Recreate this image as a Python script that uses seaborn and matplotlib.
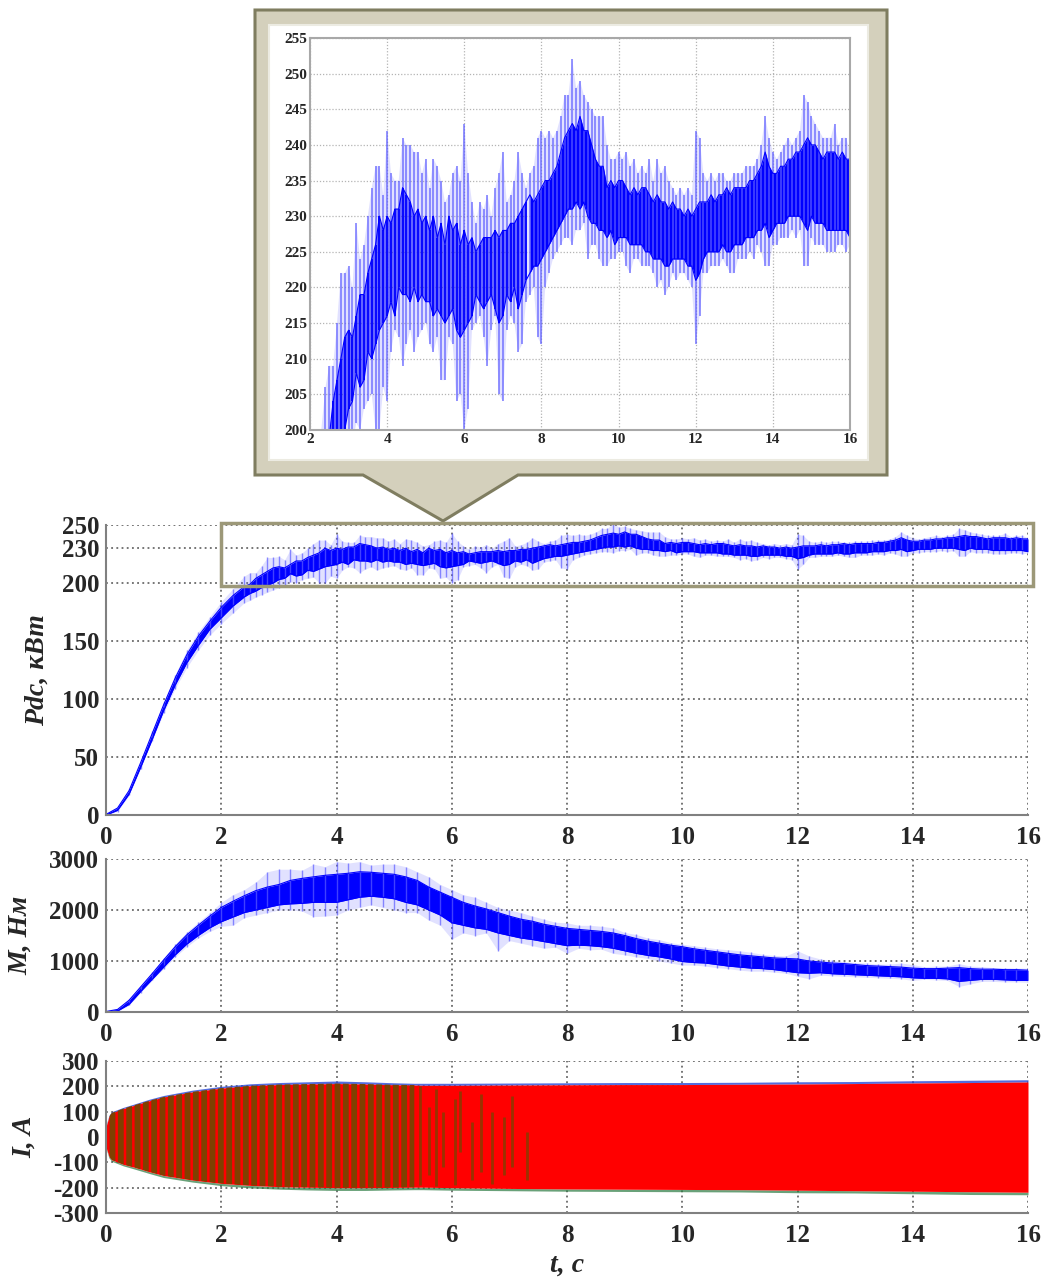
import matplotlib
matplotlib.use("Agg")
import matplotlib.pyplot as plt
from matplotlib.patches import Polygon, Rectangle
import seaborn as sns
import numpy as np
import pandas as pd

# Pdc, kW: outer spike range (lo/hi) and dense core (clo/chi)
pdc_t = [0.0, 0.2, 0.4, 0.6, 0.8, 1.0, 1.2, 1.4, 1.6, 1.8, 2.0, 2.2, 2.4, 2.6, 2.8,
         3.0, 3.2, 3.4, 3.6, 3.8, 4.0, 4.2, 4.4, 4.6, 4.8, 5.0, 5.2, 5.4, 5.6, 5.8,
         6.0, 6.2, 6.4, 6.6, 6.8, 7.0, 7.2, 7.4, 7.6, 7.8, 8.0, 8.2, 8.4, 8.6, 8.8,
         9.0, 9.2, 9.4, 9.6, 9.8, 10.0, 10.2, 10.4, 10.6, 10.8, 11.0, 11.2, 11.4, 11.6, 11.8,
         12.0, 12.2, 12.4, 12.6, 12.8, 13.0, 13.2, 13.4, 13.6, 13.8, 14.0, 14.2, 14.4, 14.6, 14.8,
         15.0, 15.2, 15.4, 15.6, 15.8, 16.0]
pdc_lo = [0, 3, 17, 40, 64, 88, 109, 127, 142, 155, 165, 174, 183, 188, 192,
          196, 201, 203, 205, 200, 204, 214, 209, 214, 213, 215, 211, 207, 213, 204,
          200, 214, 216, 209, 216, 204, 216, 211, 218, 220, 212, 222, 225, 227, 226,
          228, 224, 226, 223, 224, 225, 223, 224, 223, 223, 220, 219, 222, 222, 221,
          212, 222, 223, 223, 223, 222, 224, 225, 226, 223, 226, 227, 227, 227, 223,
          227, 226, 225, 225, 226, 226]
pdc_clo = [0, 4, 18, 41, 65, 90, 112, 131, 146, 160, 170, 180, 188, 193, 198,
           203, 208, 207, 210, 214, 216, 216, 219, 218, 218, 218, 216, 216, 216, 214,
           214, 216, 218, 218, 217, 216, 218, 217, 221, 223, 224, 226, 228, 230, 231,
           231, 230, 229, 228, 228, 227, 227, 226, 226, 225, 224, 223, 224, 224, 223,
           221, 224, 225, 225, 225, 226, 226, 227, 228, 229, 228, 229, 230, 230, 229,
           230, 229, 228, 228, 228, 227]
pdc_chi = [0.5, 6, 21, 45, 70, 95, 118, 138, 154, 167, 179, 189, 197, 204, 210,
           214, 216, 219, 224, 230, 230, 231, 234, 232, 231, 230, 230, 229, 230, 229,
           228, 227, 226, 227, 228, 228, 229, 230, 232, 232, 234, 235, 237, 241, 243,
           244, 242, 238, 237, 235, 235, 234, 234, 234, 233, 233, 232, 232, 231, 231,
           231, 232, 233, 233, 234, 234, 234, 235, 236, 239, 236, 237, 238, 239, 240,
           240, 239, 239, 239, 239, 238]
pdc_hi = [1, 7, 22, 46, 72, 97, 121, 142, 158, 171, 184, 195, 206, 209, 222,
          223, 229, 226, 234, 237, 242, 235, 241, 240, 239, 238, 238, 235, 233, 237,
          243, 232, 232, 233, 234, 239, 233, 239, 234, 237, 242, 242, 242, 247, 252,
          249, 246, 244, 244, 238, 239, 239, 238, 237, 238, 238, 237, 234, 234, 234,
          242, 236, 236, 236, 235, 236, 236, 237, 238, 244, 239, 239, 241, 241, 247,
          244, 242, 241, 243, 241, 239]
# in-between samples of the same trace (t = 2.5, 2.7, ... 15.9)
pdc_t2 = [2.5, 2.7, 2.9, 3.1, 3.3, 3.5, 3.7, 3.9, 4.1, 4.3, 4.5, 4.7, 4.9, 5.1, 5.3,
          5.5, 5.7, 5.9, 6.1, 6.3, 6.5, 6.7, 6.9, 7.1, 7.3, 7.5, 7.7, 7.9, 8.1, 8.3,
          8.5, 8.7, 8.9, 9.1, 9.3, 9.5, 9.7, 9.9, 10.1, 10.3, 10.5, 10.7, 10.9, 11.1, 11.3,
          11.5, 11.7, 11.9, 12.1, 12.3, 12.5, 12.7, 12.9, 13.1, 13.3, 13.5, 13.7, 13.9, 14.1, 14.3,
          14.5, 14.7, 14.9, 15.1, 15.3, 15.5, 15.7, 15.9]
pdc_lo2 = [185, 190, 194, 198, 200, 204, 200, 206, 211, 213, 212, 211, 214, 212, 213,
           207, 212, 205, 203, 215, 213, 214, 205, 214, 215, 212, 219, 213, 220, 224,
           226, 227, 228, 229, 226, 224, 223, 224, 225, 222, 224, 223, 222, 221, 220,
           221, 222, 220, 216, 222, 223, 224, 222, 224, 224, 224, 225, 223, 226, 227,
           228, 228, 223, 226, 226, 225, 226, 225]
pdc_clo2 = [191, 196, 200, 204, 206, 211, 212, 215, 218, 220, 219, 220, 219, 218, 217,
            215, 217, 213, 215, 219, 217, 219, 215, 219, 220, 219, 222, 223, 225, 227,
            229, 231, 232, 232, 229, 228, 227, 226, 227, 226, 226, 225, 224, 224, 223,
            224, 224, 223, 222, 225, 225, 226, 225, 226, 227, 227, 228, 227, 229, 229,
            230, 230, 228, 229, 229, 228, 228, 228]
pdc_chi2 = [199, 207, 213, 213, 219, 222, 226, 228, 229, 231, 233, 230, 229, 228, 227,
            226, 228, 226, 226, 225, 227, 227, 227, 228, 229, 231, 233, 233, 235, 236,
            239, 242, 242, 242, 240, 237, 234, 234, 235, 233, 233, 234, 232, 232, 231,
            231, 230, 230, 232, 232, 232, 233, 233, 234, 234, 235, 237, 237, 236, 237,
            238, 239, 241, 240, 238, 239, 238, 238]
pdc_hi2 = [209, 215, 222, 220, 224, 230, 237, 233, 236, 235, 240, 239, 236, 234, 237,
           232, 236, 235, 236, 229, 231, 230, 236, 232, 235, 236, 236, 241, 241, 241,
           244, 247, 248, 247, 245, 244, 240, 238, 238, 237, 236, 236, 235, 236, 235,
           233, 233, 233, 241, 235, 235, 236, 235, 236, 237, 237, 240, 241, 238, 240,
           240, 242, 246, 243, 241, 241, 240, 241]

# M, Nm
m_t = [0.0, 0.2, 0.4, 0.6, 0.8, 1.0, 1.2, 1.4, 1.6, 1.8, 2.0, 2.2, 2.4, 2.6, 2.8,
       3.0, 3.2, 3.4, 3.6, 3.8, 4.0, 4.2, 4.4, 4.6, 4.8, 5.0, 5.2, 5.4, 5.6, 5.8,
       6.0, 6.2, 6.4, 6.6, 6.8, 7.0, 7.2, 7.4, 7.6, 7.8, 8.0, 8.2, 8.4, 8.6, 8.8,
       9.0, 9.2, 9.4, 9.6, 9.8, 10.0, 10.2, 10.4, 10.6, 10.8, 11.0, 11.2, 11.4, 11.6, 11.8,
       12.0, 12.2, 12.4, 12.6, 12.8, 13.0, 13.2, 13.4, 13.6, 13.8, 14.0, 14.2, 14.4, 14.6, 14.8,
       15.0, 15.2, 15.4, 15.6, 15.8, 16.0]
m_min = [0, 10, 130, 380, 620, 850, 1080, 1280, 1450, 1580, 1680, 1700, 1850, 1900, 1950,
         2000, 2000, 1980, 1870, 1880, 1900, 2000, 2050, 2100, 2050, 2000, 1950, 1950, 1800, 1700,
         1430, 1550, 1500, 1550, 1200, 1400, 1350, 1300, 1250, 1270, 1150, 1250, 1220, 1230, 1150,
         1120, 1080, 1050, 1000, 960, 920, 920, 900, 870, 850, 820, 800, 800, 780, 760,
         700, 650, 720, 710, 700, 690, 680, 670, 660, 650, 620, 640, 630, 620, 500,
         550, 600, 600, 590, 590, 580]
m_lo = [0, 20, 150, 400, 640, 880, 1120, 1330, 1500, 1650, 1770, 1860, 1950, 2000, 2050,
        2100, 2120, 2130, 2150, 2150, 2150, 2200, 2250, 2270, 2250, 2220, 2150, 2100, 2000, 1900,
        1750, 1700, 1650, 1620, 1550, 1500, 1450, 1420, 1380, 1340, 1300, 1310, 1300, 1280, 1250,
        1200, 1150, 1110, 1080, 1040, 990, 970, 960, 930, 900, 880, 860, 850, 830, 800,
        770, 760, 770, 750, 740, 730, 720, 710, 700, 690, 670, 660, 660, 650, 600,
        620, 640, 640, 630, 620, 620]
m_hi = [10, 50, 230, 490, 750, 1020, 1280, 1510, 1700, 1880, 2050, 2170, 2280, 2380, 2450,
        2500, 2580, 2620, 2650, 2680, 2700, 2720, 2750, 2740, 2720, 2700, 2650, 2580, 2450, 2350,
        2250, 2150, 2080, 2020, 1950, 1880, 1820, 1780, 1720, 1680, 1640, 1620, 1600, 1580, 1550,
        1500, 1440, 1390, 1350, 1310, 1280, 1240, 1210, 1180, 1150, 1120, 1100, 1080, 1060, 1050,
        1040, 1000, 980, 960, 950, 930, 910, 900, 890, 880, 860, 850, 850, 860, 870,
        850, 840, 840, 830, 830, 820]
m_max = [20, 60, 250, 510, 780, 1060, 1330, 1570, 1760, 1950, 2150, 2300, 2400, 2550, 2750,
         2800, 2800, 2780, 2900, 2850, 2950, 2920, 2950, 2880, 2900, 2900, 2850, 2750, 2650, 2500,
         2400, 2300, 2250, 2150, 2050, 2000, 1950, 1880, 1820, 1760, 1750, 1700, 1700, 1680, 1650,
         1560, 1520, 1450, 1420, 1360, 1330, 1300, 1270, 1240, 1220, 1200, 1170, 1130, 1110, 1100,
         1200, 1100, 1040, 1010, 990, 970, 960, 940, 940, 960, 930, 890, 900, 900, 950,
         900, 890, 870, 870, 860, 860]

# I, A: envelope of the three phase currents
i_t = [0, 0.05, 0.1, 0.3, 0.5, 0.75, 1, 1.5, 2, 2.5, 3, 3.5, 4, 4.5, 5, 5.35, 5.5,
       6, 7, 8, 9, 10, 11, 12, 13, 14, 15, 16]
i_hi = [40, 80, 95, 112, 126, 143, 158, 178, 193, 202, 207, 209, 211, 209, 206, 205, 204,
        204, 205, 206, 207, 207, 208, 209, 211, 213, 215, 217]
i_lo = [-40, -75, -90, -108, -120, -137, -152, -170, -183, -191, -196, -198, -200, -200, -199, -198, -198,
        -200, -203, -205, -206, -207, -208, -210, -212, -214, -216, -218]
i_hi_pk = [44, 85, 100, 117, 131, 149, 164, 185, 200, 210, 215, 218, 221, 218, 214, 212, 212,
           212, 213, 214, 215, 215, 216, 218, 219, 222, 224, 226]
i_lo_pk = [-44, -82, -96, -114, -127, -144, -160, -178, -192, -201, -206, -209, -211, -211, -209, -208, -208,
           -210, -212, -214, -215, -216, -217, -220, -221, -224, -227, -228]
# darker stripes still visible after the red takes over
i_stripe_t = [5.45, 5.6, 5.72, 5.85, 6.05, 6.15, 6.35, 6.5, 6.7, 6.9, 7.05, 7.3]
i_stripe_lo = [-190, -150, -195, -120, -190, -60, -170, -140, -185, -150, -120, -170]
i_stripe_hi = [200, 120, 190, 100, 150, 180, 60, 170, 100, 80, 160, 20]

pdc_ticks = [0, 50, 100, 150, 200, 230, 250]
m_ticks = [0, 1000, 2000, 3000]
i_ticks = [-300, -200, -100, 0, 100, 200, 300]
t_ticks = [0, 2, 4, 6, 8, 10, 12, 14, 16]
inset_yticks = [200, 205, 210, 215, 220, 225, 230, 235, 240, 245, 250, 255]

sns.set_theme(style="white")
plt.rcParams['font.family'] = ['Liberation Serif', 'DejaVu Serif']
plt.rcParams['font.weight'] = 'bold'
plt.rcParams['hatch.linewidth'] = 4.2

W, H = 1043, 1277
fig = plt.figure(figsize=(W / 100, H / 100), dpi=100)
fig.patch.set_facecolor('white')


def px_axes(x0, y0, x1, y1):
    return fig.add_axes([x0 / W, 1 - y1 / H, (x1 - x0) / W, (y1 - y0) / H])


def fx(x, y):
    return (x / W, 1 - y / H)


BLUE = '#0000ff'
LIGHT = '#5c5cff'

ax1 = px_axes(106, 525, 1028, 815)
ax2 = px_axes(106, 859, 1028, 1012)
ax3 = px_axes(106, 1061, 1028, 1213)
axin = px_axes(310, 38, 850, 430)

pdc = pd.concat([
    pd.DataFrame({'t': pdc_t, 'lo': pdc_lo, 'clo': pdc_clo, 'chi': pdc_chi, 'hi': pdc_hi}),
    pd.DataFrame({'t': pdc_t2, 'lo': pdc_lo2, 'clo': pdc_clo2, 'chi': pdc_chi2, 'hi': pdc_hi2}),
]).sort_values('t').reset_index(drop=True)
mdf = pd.DataFrame({'t': m_t, 'lo': m_min, 'clo': m_lo, 'chi': m_hi, 'hi': m_max})


def noisy_band(ax, df, lw, light_until=None):
    ax.fill_between(df['t'], df['lo'], df['hi'], color=LIGHT, alpha=0.18, lw=0)
    ax.vlines(df['t'], df['lo'], df['hi'], color=LIGHT, alpha=0.7, lw=lw)
    if light_until is None:
        ax.fill_between(df['t'], df['clo'], df['chi'], color=BLUE, lw=0)
    else:
        early = (df['t'] <= light_until).to_numpy()
        ax.fill_between(df['t'], df['clo'], df['chi'], where=early, color=BLUE,
                        alpha=0.55, lw=0)
        ax.fill_between(df['t'], df['clo'], df['chi'], where=~early, color=BLUE, lw=0)
        ax.vlines(df['t'][early], df['clo'][early], df['chi'][early], color=BLUE, lw=lw)
    sns.lineplot(data=df, x='t', y='clo', ax=ax, color=BLUE, lw=0.8)
    sns.lineplot(data=df, x='t', y='chi', ax=ax, color=BLUE, lw=0.8)


noisy_band(ax1, pdc, 1.0)
noisy_band(axin, pdc, 1.3, light_until=7.6)
noisy_band(ax2, mdf, 1.0)

# currents
it = np.array(i_t)
ax3.fill_between(it, i_hi, i_hi_pk, color='#2848d8', alpha=0.8, lw=0)
ax3.fill_between(it, i_lo_pk, i_lo, color='#2a7a40', alpha=0.7, lw=0)
ax3.fill_between(it, i_lo, i_hi, color='#ff0000', lw=0)
ax3.fill_between(it, i_lo, i_hi, where=it <= 5.35, facecolor='none',
                 edgecolor='#7f4000', hatch='||', lw=0)
ax3.vlines(i_stripe_t, i_stripe_lo, i_stripe_hi, color='#7f4000', alpha=0.8, lw=2)

tick_font = dict(fontsize=18, fontweight='bold')
label_font = dict(fontsize=20, fontweight='bold', style='italic')

for ax, yt, lab, lx in [(ax1, pdc_ticks, 'Pdc, кВт', -0.075),
                        (ax2, m_ticks, 'M, Нм', -0.093),
                        (ax3, i_ticks, 'I, A', -0.089)]:
    ax.set_xlim(0, 16)
    ax.set_ylim(yt[0], yt[-1])
    ax.set_xticks(t_ticks)
    ax.set_yticks(yt)
    ax.set_xticklabels([str(v) for v in t_ticks], **tick_font)
    ax.set_yticklabels([str(v) for v in yt], **tick_font)
    ax.tick_params(length=0, pad=5)
    ax.tick_params(axis='x', pad=8)
    ax.grid(True, linestyle=(0, (1.2, 2.2)), color='#505050', lw=1.1)
    for s in ['top', 'right']:
        ax.spines[s].set_visible(False)
    for s in ['left', 'bottom']:
        ax.spines[s].set_color('#808080')
        ax.spines[s].set_linewidth(1.5)
    ax.set_xlabel('')
    ax.set_ylabel(lab, va='center', **label_font)
    ax.yaxis.set_label_coords(lx, 0.5)
    ax.set_facecolor('white')

ax3.set_xlabel('t, c', va='center', **label_font)
ax3.xaxis.set_label_coords(0.5, -0.34)

# inset
axin.set_xlim(2, 16)
axin.set_ylim(200, 255)
axin.set_xticks(t_ticks[1:])
axin.set_yticks(inset_yticks)
axin.set_xticklabels([str(v) for v in t_ticks[1:]], fontsize=11, fontweight='bold')
axin.set_yticklabels([str(v) for v in inset_yticks], fontsize=11, fontweight='bold')
axin.tick_params(length=0, pad=2)
axin.grid(True, linestyle=(0, (1, 1.5)), color='#b4b4b4', lw=0.9)
for s in axin.spines.values():
    s.set_color('#a8a8a8')
    s.set_linewidth(1.5)
axin.set_xlabel('')
axin.set_ylabel('')
axin.set_facecolor('white')

# callout frame with pointer
outline = [fx(255, 10), fx(887, 10), fx(887, 475), fx(518, 475), fx(443, 521),
           fx(363, 475), fx(255, 475)]
fig.add_artist(Polygon(outline, closed=True, transform=fig.transFigure,
                       facecolor='#d4d0bc', edgecolor='#7f7d60', lw=2.2, zorder=-5))
x0, y0 = fx(269, 460)
x1, y1 = fx(868, 25)
fig.add_artist(Rectangle((x0, y0), x1 - x0, y1 - y0, transform=fig.transFigure,
                         facecolor='white', edgecolor='#ecebe2', lw=1.5, zorder=-4))

# zoom window on the main power plot
ax1.add_patch(Rectangle((2, 197), 14.08, 55, fill=False, edgecolor='#9c9878',
                        lw=2.5, clip_on=False, zorder=5))

fig.savefig('out.png', dpi=100)
